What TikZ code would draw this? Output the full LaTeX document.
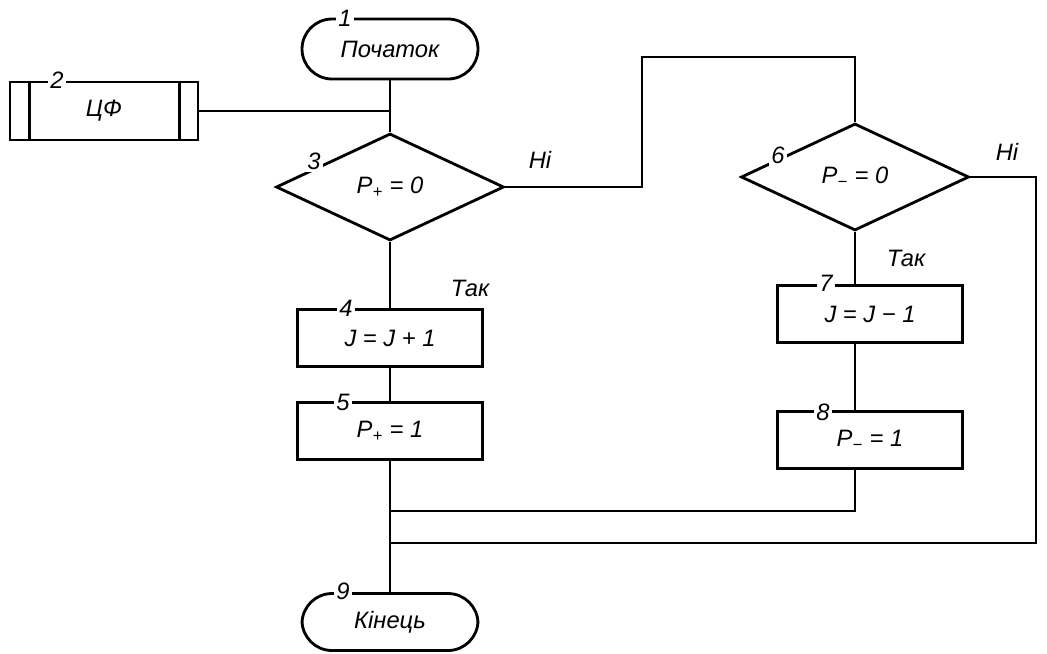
\documentclass[tikz,border=0pt]{standalone}
\usepackage{fontspec}
\setmainfont{Liberation Sans}
\usetikzlibrary{shapes.geometric}
\begin{document}
\begin{tikzpicture}[x=0.02cm,y=-0.02cm,
  every node/.style={font=\fontsize{13.5}{15}\selectfont\itshape},
  ln/.style={line width=1.6pt},
  term/.style={draw,line width=1.6pt,rectangle,rounded corners=0.6cm,minimum width=3.52cm,minimum height=1.2cm},
  proc/.style={draw,line width=1.6pt,rectangle,minimum width=3.7cm,minimum height=1.14cm},
  dec/.style={draw,line width=1.6pt,diamond,minimum width=4.56cm,minimum height=2.14cm,inner sep=0pt},
  num/.style={fill=white,inner sep=1.5pt}]
\useasboundingbox (0,0) rectangle (1047,653);
% nodes
\node[term] (t1) at (390,49) {Початок};
\node[proc,minimum width=3.76cm,minimum height=1.16cm] (b2) at (104,111) {ЦФ};
\draw[ln] ([xshift=0.42cm]b2.north west) -- ([xshift=0.42cm]b2.south west)
          ([xshift=-0.4cm]b2.north east) -- ([xshift=-0.4cm]b2.south east);
\node[dec] (d3) at (390,187) {P\textsubscript{+} = 0};
\node[proc] (b4) at (390,338) {J = J + 1};
\node[proc] (b5) at (390,431) {P\textsubscript{+} = 1};
\node[dec] (d6) at (855,177) {P\textsubscript{−} = 0};
\node[proc] (b7) at (870,314) {J = J − 1};
\node[proc] (b8) at (870,440) {P\textsubscript{−} = 1};
\node[term,minimum height=1.14cm] (t9) at (390,622) {Кінець};
% numbers
\node[num] (n1) at (345,18) {1};
\node[num] (n2) at (57,80) {2};
\node[num] (n3) at (314,161) {3};
\node[num] (n4) at (346,308) {4};
\node[num] (n5) at (343,402) {5};
\node[num] (n6) at (778,155) {6};
\node[num] (n7) at (826,283) {7};
\node[num] (n8) at (823,412) {8};
\node[num] (n9) at (343,591) {9};
% labels
\node (l1) at (540,160) {Ні};
\node (l2) at (1007,152) {Ні};
\node (l3) at (470,288) {Так};
\node (l4) at (906,258) {Так};
% coordinates
\coordinate (k1) at (642,57);
\coordinate (k2) at (1036,543);
\coordinate (k3) at (855,511);
% connectors
\draw[ln] (t1.south) -- (d3.north);
\draw[ln] (b2.east) -- (b2.east -| t1.south);
\draw[ln] (d3.south) -- (b4.north);
\draw[ln] (b4.south) -- (b5.north);
\draw[ln] (b5.south) -- (t9.north);
\draw[ln] (d3.east) -| (k1) -| (d6.north);
\draw[ln] (d6.south) -- (d6.south |- b7.north);
\draw[ln] (d6.south |- b7.south) -- (d6.south |- b8.north);
\draw[ln] (d6.south |- b8.south) -- (k3) -- (k3 -| t9.north);
\draw[ln] (d6.east) -| (k2) -- (k2 -| t9.north);
\end{tikzpicture}
\end{document}
